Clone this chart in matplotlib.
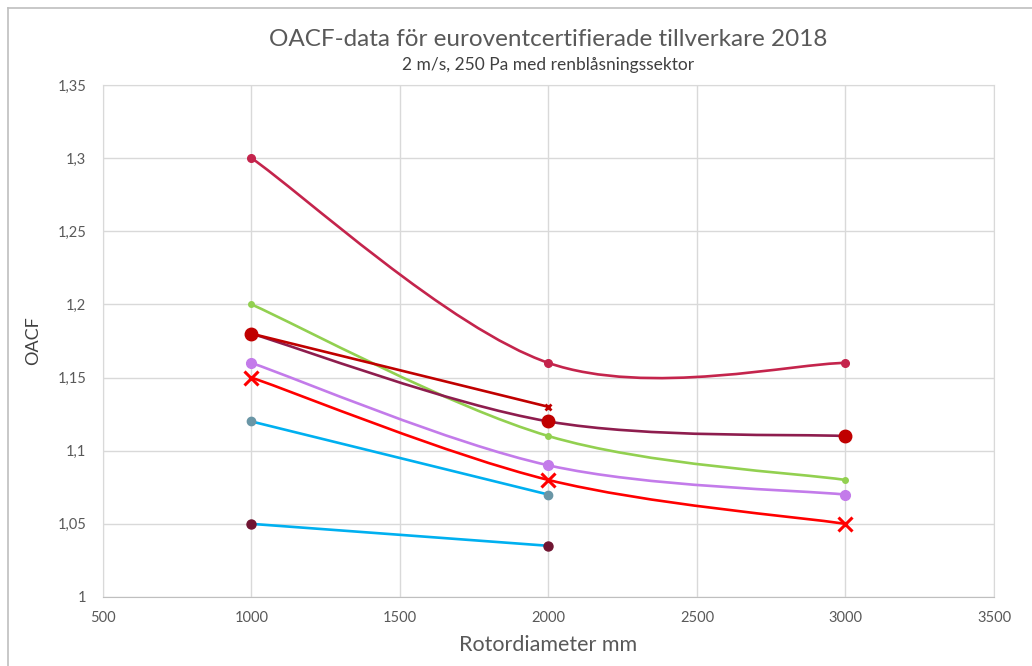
import matplotlib
matplotlib.use('Agg')
import matplotlib.pyplot as plt
from matplotlib.path import Path
from matplotlib.patches import PathPatch
from matplotlib.lines import Line2D
from matplotlib.ticker import FuncFormatter, MultipleLocator

plt.rcParams['font.family'] = ['Lato', 'DejaVu Sans']

diameters = [1000, 2000, 3000]
oacf_a = [1.30, 1.16, 1.16]
oacf_b = [1.18, 1.13]
oacf_c = [1.18, 1.12, 1.11]
oacf_d = [1.20, 1.11, 1.08]
oacf_e = [1.16, 1.09, 1.07]
oacf_f = [1.15, 1.08, 1.05]
oacf_g = [1.12, 1.07]
oacf_h = [1.05, 1.035]

# (values, line colour, marker, marker colour, marker size, marker edge width)
series = [
    (oacf_h, '#00B0F0', 'o', '#701532', 6.5, 1),
    (oacf_g, '#00B0F0', 'o', '#6A96A6', 6.0, 1),
    (oacf_f, '#FF0000', 'x', '#FF0000', 10, 2.2),
    (oacf_e, '#C37BEA', 'o', '#C37BEA', 7.0, 1),
    (oacf_d, '#92D050', 'o', '#92D050', 4.0, 1),
    (oacf_c, '#8E1D4E', 'o', '#C00000', 9.0, 1),
    (oacf_b, '#C00000', 'x', '#C00000', 5.0, 2),
    (oacf_a, '#C4244C', 'o', '#C4244C', 5.5, 1),
]


def smooth_path(xs, ys):
    """Excel-style smoothed line: cubic Bezier through the points."""
    pts = list(zip(xs, ys))
    verts = [pts[0]]
    codes = [Path.MOVETO]
    n = len(pts)
    for i in range(n - 1):
        p0 = pts[max(i - 1, 0)]
        p1 = pts[i]
        p2 = pts[i + 1]
        p3 = pts[min(i + 2, n - 1)]
        c1 = (p1[0] + (p2[0] - p0[0]) / 6, p1[1] + (p2[1] - p0[1]) / 6)
        c2 = (p2[0] - (p3[0] - p1[0]) / 6, p2[1] - (p3[1] - p1[1]) / 6)
        verts += [c1, c2, p2]
        codes += [Path.CURVE4] * 3
    return Path(verts, codes)


fig = plt.figure(figsize=(10.32, 6.66), dpi=100)
ax = fig.add_axes([103 / 1032, 69 / 666, 891 / 1032, 512 / 666])

for vals, lc, mk, mc, ms, mew in series:
    xs = diameters[:len(vals)]
    ax.add_patch(PathPatch(smooth_path(xs, vals), fill=False,
                           edgecolor=lc, lw=1.9, zorder=3,
                           capstyle='round', joinstyle='round'))
    ax.plot(xs, vals, linestyle='none', marker=mk, markersize=ms,
            color=mc, markeredgewidth=mew, zorder=4)

ax.set_xlim(500, 3500)
ax.set_ylim(1.0, 1.35)
ax.xaxis.set_major_locator(MultipleLocator(500))
ax.yaxis.set_major_locator(MultipleLocator(0.05))
ax.yaxis.set_major_formatter(FuncFormatter(
    lambda v, p: ('%.2f' % v).rstrip('0').rstrip('.').replace('.', ',')))
ax.grid(True, color='#D9D9D9', lw=1)
ax.set_axisbelow(True)
for s in ax.spines.values():
    s.set_color('#D9D9D9')
ax.spines['bottom'].set_color('#BFBFBF')
ax.tick_params(length=0, labelsize=10.5, colors='#595959', pad=12)
ax.tick_params(axis='x', pad=10)

ax.set_xlabel('Rotordiameter mm', fontsize=15.5, color='#595959', labelpad=7)
ax.set_ylabel('OACF', fontsize=13, color='#404040', labelpad=12)

cx = (103 + 994) / 2 / 1032
fig.text(cx, 1 - 40 / 666, 'OACF-data för euroventcertifierade tillverkare 2018',
         ha='center', va='center', fontsize=17.5, color='#595959')
fig.text(cx, 1 - 65 / 666, '2 m/s, 250 Pa med renblåsningssektor',
         ha='center', va='center', fontsize=12.5, color='#404040')

# outer chart frame (cut at the right and bottom)
fig.add_artist(Line2D([8 / 1032, 1], [1 - 8 / 666, 1 - 8 / 666],
                      transform=fig.transFigure, color='#BFBFBF', lw=1.2))
fig.add_artist(Line2D([8 / 1032, 8 / 1032], [0, 1 - 8 / 666],
                      transform=fig.transFigure, color='#BFBFBF', lw=1.2))

fig.savefig('out.png', dpi=100)
